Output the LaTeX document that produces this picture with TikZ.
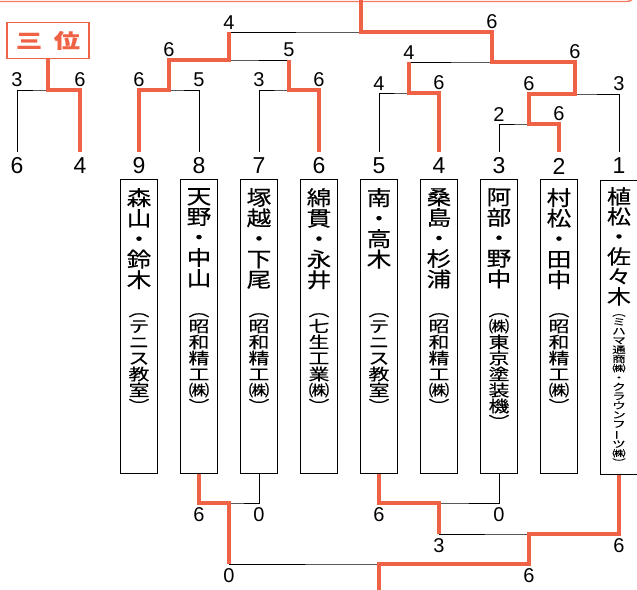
\documentclass[tikz,border=0pt]{standalone}
\usepackage{fontspec}
\usepackage{graphicx}
\setmainfont{Liberation Sans}
\newfontfamily\jp[FakeBold=0.3]{Noto Sans CJK JP}
\definecolor{winred}{RGB}{240,98,70}
\newcommand{\kL}{︵}
\newcommand{\kR}{︶}
\newcommand{\chou}{\rotatebox[origin=c]{90}{ー}}
\begin{document}
\begin{tikzpicture}[x=1pt, y=-1pt,
    box/.style    = {draw, line width=1.2pt, minimum width=37pt, minimum height=294pt, anchor=north, inner sep=0},
    pair/.style   = {anchor=north, inner sep=0, align=center, xscale=1.2, transform shape, font=\fontsize{20.5}{20.5}\jp},
    firm/.style   = {anchor=north, inner sep=0, align=center, xscale=1.3, transform shape, font=\fontsize{16}{16}\jp},
    firmsm/.style = {anchor=north, inner sep=0, align=center, xscale=1.45, transform shape, font=\fontsize{9.3}{9.3}\jp},
    team/.style   = {inner xsep=0, inner ysep=6pt, font=\fontsize{23}{23}\selectfont},
    score/.style  = {anchor=south, inner sep=2.5pt, font=\fontsize{20}{20}\selectfont},
    bscore/.style = {anchor=north, inner sep=4pt, font=\fontsize{20}{20}\selectfont},
    lose/.style   = {line width=0.8pt},
    win/.style    = {line width=3.4pt, draw=winred},
    frame/.style  = {draw=winred!85, line width=1.4pt}]
    \useasboundingbox (0,0) rectangle (637,589);
    \clip (0,0) rectangle (637,589);

    \draw[frame, rounded corners=8pt] (-20,-40) rectangle (635,1.5);

    \node[draw=winred, text=winred, line width=1.5pt, minimum width=82pt, minimum height=36pt,
          inner sep=0, font=\fontsize{20}{20}\jp\bfseries] (sanmi) at (48,40.5) {\scalebox{1.3}[1]{三\hspace{9pt}位}};

    \node[team] (n6c) at (17,166)  {6};
    \node[team] (n4c) at (80,166)  {4};
    \node[team] (n9)  at (139,166) {9};
    \node[team] (n8)  at (199,166) {8};
    \node[team] (n7)  at (259,166) {7};
    \node[team] (n6)  at (319,166) {6};
    \node[team] (n5)  at (379,166) {5};
    \node[team] (n4)  at (439,166) {4};
    \node[team] (n3)  at (499,166) {3};
    \node[team] (n2)  at (559,166) {2};
    \node[team] (n1)  at (619,166) {1};

    \node[box] (b9) at (139,179) {};
    \node[box] (b8) at (199,179) {};
    \node[box] (b7) at (259,179) {};
    \node[box] (b6) at (319,179) {};
    \node[box] (b5) at (379,179) {};
    \node[box] (b4) at (439,179) {};
    \node[box] (b3) at (499,179) {};
    \node[box] (b2) at (559,179) {};
    \node[box] (b1) at (619,180) {};

    \node[pair] (p9) at ([yshift=-9pt]b9.north) {森\\山\\・\\鈴\\木};
    \node[pair] (p8) at ([yshift=-9pt]b8.north) {天\\野\\・\\中\\山};
    \node[pair] (p7) at ([yshift=-9pt]b7.north) {塚\\越\\・\\下\\尾};
    \node[pair] (p6) at ([yshift=-9pt]b6.north) {綿\\貫\\・\\永\\井};
    \node[pair] (p5) at ([yshift=-9pt]b5.north) {南\\・\\高\\木};
    \node[pair] (p4) at ([yshift=-9pt]b4.north) {桑\\島\\・\\杉\\浦};
    \node[pair] (p3) at ([yshift=-9pt]b3.north) {阿\\部\\・\\野\\中};
    \node[pair] (p2) at ([yshift=-9pt]b2.north) {村\\松\\・\\田\\中};
    \node[pair, font=\fontsize{20}{20}\jp] (p1) at ([yshift=-7pt]b1.north) {植\\松\\・\\佐\\々\\木};

    \node[firm] (a9) at ([yshift=-134pt]b9.north) {\kL\\テ\\ニ\\ス\\教\\室\\\kR};
    \node[firm] (a8) at ([yshift=-134pt]b8.north) {\kL\\昭\\和\\精\\工\\㈱\\\kR};
    \node[firm] (a7) at ([yshift=-134pt]b7.north) {\kL\\昭\\和\\精\\工\\㈱\\\kR};
    \node[firm] (a6) at ([yshift=-134pt]b6.north) {\kL\\七\\生\\工\\業\\㈱\\\kR};
    \node[firm] (a5) at ([yshift=-134pt]b5.north) {\kL\\テ\\ニ\\ス\\教\\室\\\kR};
    \node[firm] (a4) at ([yshift=-134pt]b4.north) {\kL\\昭\\和\\精\\工\\㈱\\\kR};
    \node[firm] (a3) at ([yshift=-134pt]b3.north) {\kL\\㈱\\東\\京\\塗\\装\\機\\\kR};
    \node[firm] (a2) at ([yshift=-134pt]b2.north) {\kL\\昭\\和\\精\\工\\㈱\\\kR};
    \node[firmsm] (a1) at ([yshift=-134pt]b1.north) {\kL\\ミ\\ハ\\マ\\通\\商\\㈱\\・\\ク\\ラ\\ウ\\ン\\フ\\\chou\\ツ\\㈱\\\kR};

    \coordinate (mT) at (48,90);
    \coordinate (mA) at (169,90);
    \coordinate (mB) at (289,90);
    \coordinate (mC) at (229,60);
    \coordinate (mD) at (409,93);
    \coordinate (mE) at (529,124);
    \coordinate (mF) at (575,94);
    \coordinate (mG) at (492,62);
    \coordinate (mH) at (361,32);
    \coordinate (champ) at (361,-5);
    \coordinate (mP) at (229,503);
    \coordinate (mQ) at (439,503);
    \coordinate (mR) at (529,534);
    \coordinate (mS) at (379,564);
    \coordinate (champb) at (379,595);

    \draw[lose] (n6c.north) |- node[score] {3} (mT) -| node[score] {6} (n4c.north);
    \draw[win]  (n4c.north) |- (mT) -- (sanmi.south);

    \draw[lose] (n9.north) |- node[score] {6} (mA) -| node[score] {5} (n8.north);
    \draw[lose] (n7.north) |- node[score] {3} (mB) -| node[score] {6} (n6.north);
    \draw[lose] (mA) |- node[score] {6} (mC) -| node[score] {5} (mB);
    \draw[lose] (n5.north) |- node[score] {4} (mD) -| node[score] {6} (n4.north);
    \draw[lose] (n3.north) |- node[score] {2} (mE) -| node[score] {6} (n2.north);
    \draw[lose] (mE) |- node[score] {6} (mF) -| node[score] {3} (n1.north);
    \draw[lose] (mD) |- node[score] {4} (mG) -| node[score] {6} (mF);
    \draw[lose] (mC) |- node[score] {4} (mH) -| node[score] {6} (mG);
    \draw[win]  (n9.north) |- (mA) |- (mC) -- (mC |- mH);
    \draw[win]  (n6.north) |- (mB) -- (mB |- mC);
    \draw[win]  (n4.north) |- (mD) -- (mD |- mG);
    \draw[win]  (n2.north) |- (mE) |- (mF) |- (mG) |- (mH) -- (champ);

    \draw[lose] (b8.south) |- node[bscore] {6} (mP) -| node[bscore] {0} (b7.south);
    \draw[lose] (b5.south) |- node[bscore] {6} (mQ) -| node[bscore] {0} (b3.south);
    \draw[lose] (mQ) |- node[bscore] {3} (mR) -| node[bscore] {6} (b1.south);
    \draw[lose] (mP) |- node[bscore] {0} (mS) -| node[bscore] {6} (mR);
    \draw[win]  (b8.south) |- (mP) -- (mP |- mS);
    \draw[win]  (b5.south) |- (mQ) -- (mQ |- mR);
    \draw[win]  (b1.south) |- (mR) |- (mS) -- (champb);
\end{tikzpicture}
\end{document}
